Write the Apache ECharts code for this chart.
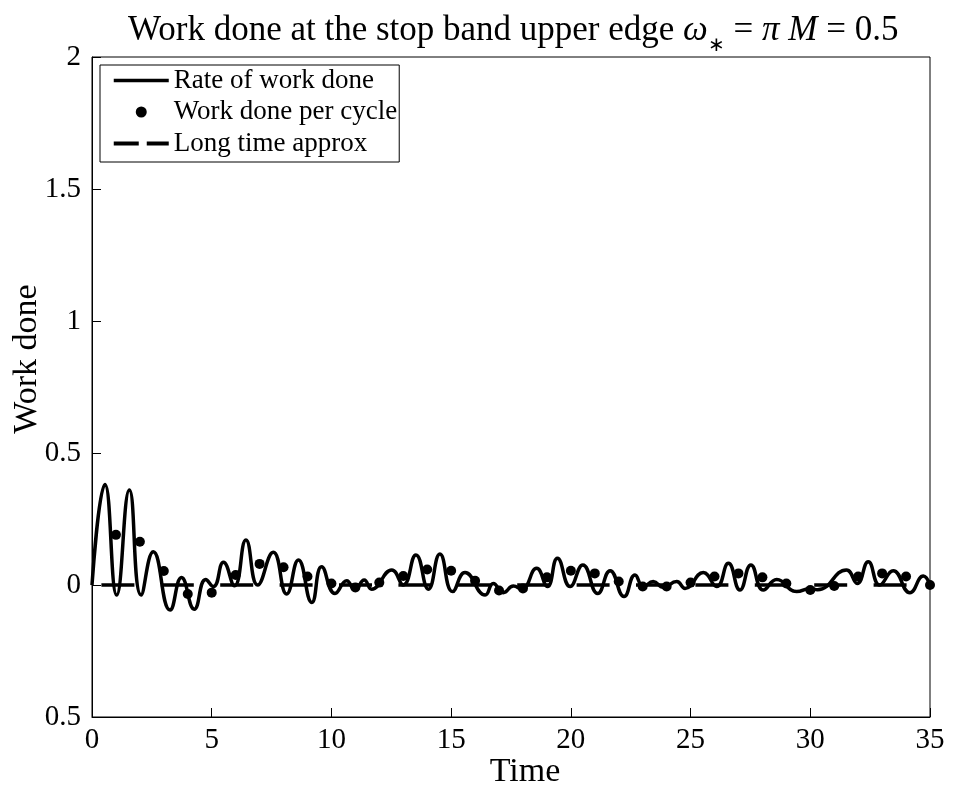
<!DOCTYPE html>
<html><head><meta charset="utf-8">
<script src="https://cdn.jsdelivr.net/npm/echarts@6/dist/echarts.min.js"></script>
<style>html,body{margin:0;padding:0;background:#fff}#c{width:957px;height:791px}</style>
</head><body><div id="c"></div>
<script>
// Rate of work done: curve read at its turning points
const rateTime = [0, 0.54, 1.03, 1.56, 2.05, 2.56, 3.26, 3.74, 4.27, 4.75, 5.07, 5.49, 5.95, 6.43, 6.92, 7.57, 8.13, 8.62, 9.18, 9.59, 10.15, 10.64, 10.98, 11.37, 11.68, 12.52, 13.0, 13.53, 14.05, 14.53, 15.06, 15.58, 16.42, 16.76, 17.18, 17.6, 17.95, 18.57, 19.02, 19.44, 19.97, 20.5, 21.12, 21.64, 22.22, 22.68, 23.03, 23.44, 23.86, 24.42, 24.77, 25.53, 26.09, 26.58, 27.06, 27.52, 28.04, 28.6, 29.43, 30.0, 30.3, 31.51, 31.96, 32.42, 32.9, 33.46, 34.16, 34.72, 35];
const rateValue = [0, 0.381, -0.038, 0.36, -0.038, 0.126, -0.095, 0.028, -0.092, 0.021, -0.006, 0.086, -0.003, 0.17, 0.0, 0.124, -0.034, 0.095, -0.066, 0.069, -0.032, 0.016, -0.019, 0.019, -0.016, 0.057, 0.0, 0.114, -0.016, 0.117, -0.025, 0.047, -0.038, 0.006, -0.029, -0.004, -0.016, 0.063, -0.006, 0.101, -0.006, 0.076, -0.032, 0.054, -0.044, 0.038, -0.006, 0.013, -0.009, 0.013, -0.013, 0.047, -0.006, 0.082, -0.019, 0.076, -0.019, 0.021, -0.025, -0.013, -0.018, 0.057, 0.006, 0.088, 0.0, 0.054, -0.029, 0.034, 0];
// Work done per cycle
const cycleTime = [1, 2, 3, 4, 5, 6, 7, 8, 9, 10, 11, 12, 13, 14, 15, 16, 17, 18, 19, 20, 21, 22, 23, 24, 25, 26, 27, 28, 29, 30, 31, 32, 33, 34, 35];
const cycleValue = [0.19, 0.164, 0.053, -0.034, -0.029, 0.038, 0.08, 0.067, 0.032, 0.006, -0.009, 0.009, 0.034, 0.059, 0.054, 0.016, -0.021, -0.013, 0.029, 0.054, 0.044, 0.013, -0.006, -0.006, 0.009, 0.032, 0.044, 0.029, 0.006, -0.019, -0.004, 0.032, 0.044, 0.032, 0];
// Long time approx
const approxTime = [0, 35];
const approxValue = [0, 0];
// Axis ticks
const xTickValues = [0, 5, 10, 15, 20, 25, 30, 35];
const yTickValues = [-0.5, 0, 0.5, 1, 1.5, 2];
const yTickLabels = ['0.5', '0', '0.5', '1', '1.5', '2'];

const FONT = 'Liberation Serif';
const chart = echarts.init(document.getElementById('c'), null, {renderer: 'canvas'});
const hidden = {color: 'rgba(0,0,0,0)', borderWidth: 0, opacity: 0};
chart.setOption({
  animation: false,
  backgroundColor: '#fff',
  title: {
    text: 'Work done at the stop band upper edge {i|ω}{s|∗} = {i|π} {i|M} = 0.5',
    left: 123, top: 8,
    textStyle: {fontFamily: FONT, fontSize: 35, fontWeight: 'normal', color: '#000',
      rich: {
        i: {fontFamily: FONT, fontSize: 35, fontStyle: 'italic', color: '#000'},
        s: {fontFamily: FONT, fontSize: 20, color: '#000', verticalAlign: 'bottom', padding: [0, 0, -8, 0]}
      }}
  },
  grid: {left: 92, right: 27, top: 57, bottom: 74, show: true, borderColor: '#000', borderWidth: 1, backgroundColor: 'transparent'},
  xAxis: {
    type: 'value', min: 0, max: 35, interval: 5,
    axisLine: {show: true, onZero: false, lineStyle: {color: '#000', width: 1}},
    axisTick: {show: true, inside: true, length: 9, lineStyle: {color: '#000'}},
    splitLine: {show: false},
    axisLabel: {fontFamily: FONT, fontSize: 29, color: '#000', margin: 9,
      formatter: v => xTickValues.indexOf(v) >= 0 ? String(v) : ''}
  },
  yAxis: {
    type: 'value', min: -0.5, max: 2, interval: 0.5,
    axisLine: {show: true, onZero: false, lineStyle: {color: '#000', width: 1}},
    axisTick: {show: true, inside: true, length: 9, lineStyle: {color: '#000'}},
    splitLine: {show: false},
    axisLabel: {fontFamily: FONT, fontSize: 29, color: '#000', margin: 11,
      formatter: v => { const k = yTickValues.findIndex(t => Math.abs(t - v) < 1e-9); return k >= 0 ? yTickLabels[k] : ''; }}
  },
  legend: {
    orient: 'vertical', left: 100, top: 65,
    padding: [2, 2, 5, 12], itemGap: 4.5,
    itemWidth: 55, itemHeight: 11,
    borderColor: '#000', borderWidth: 1, borderRadius: 0, backgroundColor: '#fff',
    textStyle: {fontFamily: FONT, fontSize: 27, color: '#000'},
    data: [
      {name: 'Rate of work done', itemStyle: hidden, lineStyle: {type: 'solid', width: 3.5, color: '#000'}},
      {name: 'Work done per cycle', icon: 'circle', itemStyle: {color: '#000', opacity: 1}},
      {name: 'Long time approx', icon: 'path://M0,0H25V4H0Z M33,0H55V4H33Z', itemStyle: {color: '#000', opacity: 1, borderWidth: 0}}
    ]
  },
  graphic: [
    {type: 'text', x: 27, y: 359, rotation: Math.PI / 2, silent: true,
      style: {text: 'Work done', font: '34px "Liberation Serif"', fill: '#000', align: 'center', verticalAlign: 'middle'}},
    {type: 'text', x: 525, y: 772, silent: true,
      style: {text: 'Time', font: '34px "Liberation Serif"', fill: '#000', align: 'center', verticalAlign: 'middle'}}
  ],
  series: [
    {
      name: 'Long time approx', type: 'line', symbol: 'none', z: 2,
      data: approxTime.map((t, i) => [t, approxValue[i]]),
      lineStyle: {color: '#000', width: 3.5, type: [33, 26.4], dashOffset: 50},
      itemStyle: {color: '#000'}
    },
    {
      name: 'Rate of work done', type: 'line', symbol: 'none', smooth: 0.5, z: 3,
      data: rateTime.map((t, i) => [t, rateValue[i]]),
      lineStyle: {color: '#000', width: 3.5},
      itemStyle: {color: '#000'}
    },
    {
      name: 'Work done per cycle', type: 'scatter', symbol: 'circle', symbolSize: 10, z: 4,
      data: cycleTime.map((t, i) => [t, cycleValue[i]]),
      itemStyle: {color: '#000', opacity: 1}
    }
  ]
});
</script></body></html>
